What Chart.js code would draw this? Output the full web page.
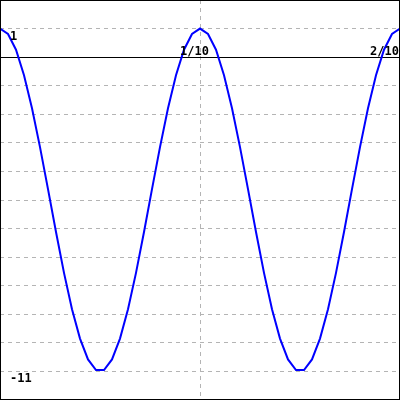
<!DOCTYPE html>
<html>
<head>
<meta charset="utf-8">
<script src="https://cdn.jsdelivr.net/npm/chart.js@4/dist/chart.umd.min.js"></script>
<style>
  html, body { margin: 0; padding: 0; background: #fff; }
  #wrap { width: 400px; height: 400px; }
</style>
</head>
<body>
<div id="wrap"><canvas id="c" width="400" height="400"></canvas></div>
<script>
const xValues = [0, 0.004, 0.008, 0.012, 0.016, 0.02, 0.024, 0.028, 0.032, 0.036, 0.04, 0.044, 0.048, 0.052, 0.056, 0.06, 0.064, 0.068, 0.072, 0.076, 0.08, 0.084, 0.088, 0.092, 0.096, 0.1, 0.104, 0.108, 0.112, 0.116, 0.12, 0.124, 0.128, 0.132, 0.136, 0.14, 0.144, 0.148, 0.152, 0.156, 0.16, 0.164, 0.168, 0.172, 0.176, 0.18, 0.184, 0.188, 0.192, 0.196, 0.2];
const yValues = [1, 0.81, 0.26, -0.63, -1.79, -3.15, -4.62, -6.12, -7.55, -8.82, -9.85, -10.58, -10.95, -10.95, -10.58, -9.85, -8.82, -7.55, -6.12, -4.62, -3.15, -1.79, -0.63, 0.26, 0.81, 1, 0.81, 0.26, -0.63, -1.79, -3.15, -4.62, -6.12, -7.55, -8.82, -9.85, -10.58, -10.95, -10.95, -10.58, -9.85, -8.82, -7.55, -6.12, -4.62, -3.15, -1.79, -0.63, 0.26, 0.81, 1];
const xTickValues = [0.1, 0.2];
const xTickLabels = ['1/10', '2/10'];
const yTickValues = [1, -11];
const yTickLabels = ['1', '-11'];

const points = xValues.map((x, i) => ({ x: x, y: yValues[i] }));
const labelFont = 'bold 12px "DejaVu Sans Mono", "Liberation Mono", monospace';

const overlay = {
  id: 'overlay',
  afterDatasetsDraw(chart) {
    const ctx = chart.ctx;
    const xs = chart.scales.x, ys = chart.scales.y;
    const area = chart.chartArea;
    ctx.save();
    ctx.font = labelFont;
    ctx.fillStyle = '#000';
    ctx.textBaseline = 'alphabetic';
    ctx.textAlign = 'left';
    const y0 = ys.getPixelForValue(0);
    xTickValues.forEach((v, i) => {
      const px = xs.getPixelForValue(v);
      const w = ctx.measureText(xTickLabels[i]).width;
      const left = Math.min(px - 20, area.right - w - 1);
      ctx.fillText(xTickLabels[i], left, y0 - 2);
    });
    yTickValues.forEach((v, i) => {
      const py = ys.getPixelForValue(v);
      ctx.fillText(yTickLabels[i], area.left + 10, py + 11);
    });
    ctx.strokeStyle = '#000';
    ctx.lineWidth = 1;
    ctx.strokeRect(0.5, 0.5, chart.width - 1, chart.height - 1);
    ctx.restore();
  }
};

new Chart(document.getElementById('c'), {
  type: 'line',
  data: {
    datasets: [{
      data: points,
      borderColor: '#0000ff',
      borderWidth: 2,
      pointRadius: 0,
      tension: 0,
      fill: false
    }]
  },
  options: {
    responsive: false,
    animation: false,
    layout: { padding: 0 },
    plugins: { legend: { display: false }, tooltip: { enabled: false } },
    scales: {
      x: {
        type: 'linear',
        min: 0,
        max: 0.2,
        position: { y: 0 },
        ticks: { display: false, stepSize: 0.1 },
        grid: { color: '#b4b4b4', lineWidth: 1, drawTicks: false },
        border: { display: true, color: '#000', width: 1, dash: [4, 4] }
      },
      y: {
        type: 'linear',
        min: -12,
        max: 2,
        ticks: { display: false, stepSize: 1 },
        grid: { color: '#b4b4b4', lineWidth: 1, drawTicks: false },
        border: { display: false, dash: [4, 4] }
      }
    }
  },
  plugins: [overlay]
});
</script>
</body>
</html>
